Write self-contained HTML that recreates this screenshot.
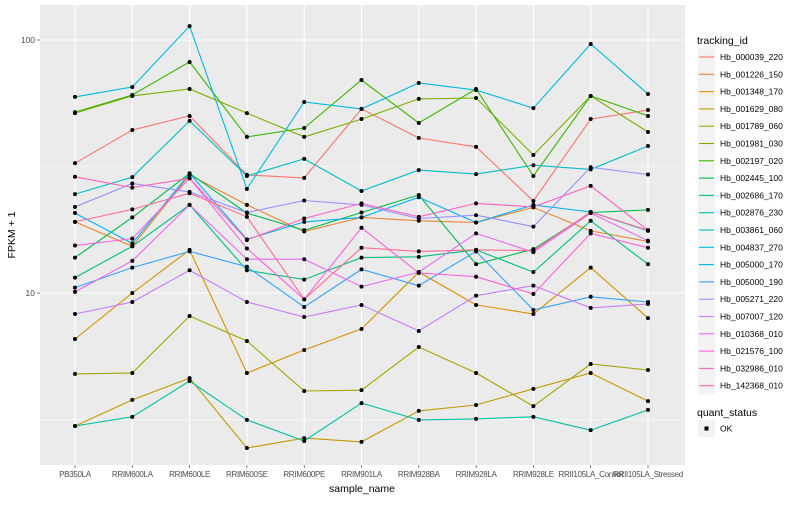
<!DOCTYPE html>
<html><head><meta charset="utf-8"><style>
body{margin:0;background:#fff;}
svg text{font-family:"Liberation Sans",sans-serif;}
</style></head><body>
<svg id="chart" width="800" height="500" xmlns="http://www.w3.org/2000/svg">
<rect x="40" y="5" width="645" height="460" fill="#EBEBEB"/>
<g id="grid"></g><g id="series"></g><g id="axes"></g><g id="legend"></g>
</svg>
<script>
const categories=["PB350LA","RRIM600LA","RRIM600LE","RRIM600SE","RRIM600PE","RRIM901LA","RRIM928BA","RRIM928LA","RRIM928LE","RRII105LA_Control","RRII105LA_Stressed"];
const seriesNames=["Hb_000039_220","Hb_001226_150","Hb_001348_170","Hb_001629_080","Hb_001789_060","Hb_001981_030","Hb_002197_020","Hb_002445_100","Hb_002686_170","Hb_002876_230","Hb_003861_060","Hb_004837_270","Hb_005000_170","Hb_005000_190","Hb_005271_220","Hb_007007_120","Hb_010368_010","Hb_021576_100","Hb_032986_010","Hb_142368_010"];
const seriesColors=["#F8766D","#EA8331","#D89000","#C09B00","#A3A500","#7CAE00","#39B600","#00BB4E","#00BF7D","#00C1A3","#00BFC4","#00BAE0","#00B0F6","#35A2FF","#9590FF","#C77CFF","#E76BF3","#FA62DB","#FF62BC","#FF6C90"];
const s01=[32.6,44.1,50.1,29.3,28.5,53.4,41.0,37.8,23.1,48.7,52.9];
const s02=[19.1,15.3,29.3,22.3,17.5,19.9,19.3,19.0,21.8,17.6,16.0];
const s03=[6.58,10,14.8,4.83,5.95,7.21,12.1,8.97,8.26,12.6,7.96];
const s04=[2.98,3.78,4.61,2.44,2.67,2.58,3.42,3.61,4.18,4.83,3.74];
const s05=[4.79,4.83,8.11,6.46,4.10,4.13,6.12,4.83,3.57,5.24,4.96];
const s06=[51.4,60.1,64.0,51.4,41.4,48.7,58.5,59.0,35.1,60.1,43.3];
const s07=[51.9,60.6,81.9,41.4,44.9,69.5,47.0,64.0,29.0,60.1,50.1];
const s08=[13.8,19.9,29.7,20.7,17.7,20.8,24.4,13.0,14.9,20.8,21.3];
const s09=[11.5,15.3,22.3,12.3,11.3,13.8,13.9,14.8,12.1,19.3,13.0];
const s10=[2.98,3.24,4.49,3.15,2.60,3.67,3.15,3.18,3.24,2.87,3.45];
const s11=[24.6,28.7,47.9,29.0,33.9,25.3,30.6,29.5,32.0,30.8,38.1];
const s12=[59.6,65.2,113.5,25.8,56.9,53.4,67.6,63.4,53.8,96.4,61.2];
const s13=[20.7,15.7,29.7,16.3,19.1,19.9,23.9,19.0,22.3,20.9,17.6];
const s14=[10.5,12.6,14.6,12.7,8.80,12.4,10.7,14.6,8.57,9.66,9.21];
const s15=[21.9,27.1,25.1,20.8,23.2,22.3,19.7,20.3,18.3,31.4,29.4];
const s16=[8.26,9.21,12.3,9.21,8.04,8.97,7.08,9.76,10.7,8.73,9.05];
const s17=[10.1,13.4,22.3,13.6,13.6,10.6,12.1,17.2,14.5,20.7,16.1];
const s18=[15.4,16.4,28.4,15.0,9.44,18.1,12.0,11.6,9.91,17.2,15.1];
const s19=[28.8,26.1,28.4,16.2,19.7,22.6,20.0,22.6,21.9,26.5,17.7];
const s20=[19.1,21.4,24.8,20.0,9.44,15.1,14.6,14.8,14.7,20.9,17.7];
const seriesValues=[s01,s02,s03,s04,s05,s06,s07,s08,s09,s10,s11,s12,s13,s14,s15,s16,s17,s18,s19,s20];
const yTicks=[10,100];
const yTickLabels=["10","100"];
const yMinor=[3.1623,31.623];

const NS="http://www.w3.org/2000/svg";
function xScale(i){return 75+i*57.3;}
function yScale(v){return 293-253*(Math.log10(v)-1);}
function mk(tag,attrs,parent,text){const e=document.createElementNS(NS,tag);for(const k in attrs)e.setAttribute(k,attrs[k]);if(text!==undefined)e.textContent=text;parent.appendChild(e);return e;}
const grid=document.getElementById('grid'),ser=document.getElementById('series'),axes=document.getElementById('axes'),leg=document.getElementById('legend');
yMinor.forEach(v=>{const l=mk('line',{x1:40,x2:685,y1:yScale(v),y2:yScale(v),stroke:'#fff','stroke-width':0.6},grid);

});
yTicks.forEach((v,i)=>{const l=mk('line',{x1:40,x2:685,y1:yScale(v),y2:yScale(v),stroke:'#fff','stroke-width':1.1},grid);


const t=mk('text',{x:35,y:yScale(v)+3,'font-size':8.5,'text-anchor':'end',fill:'#4D4D4D'},axes,yTickLabels[i]);


mk('line',{x1:37,x2:40,y1:yScale(v),y2:yScale(v),stroke:'#333','stroke-width':0.6},axes);});
categories.forEach((c,i)=>{const l=mk('line',{x1:xScale(i),x2:xScale(i),y1:5,y2:465,stroke:'#fff','stroke-width':1.1},grid);


mk('line',{x1:xScale(i),x2:xScale(i),y1:465,y2:468,stroke:'#333','stroke-width':0.6},axes);
const t=mk('text',{x:xScale(i),y:477,'font-size':8,'text-anchor':'middle',fill:'#4D4D4D','letter-spacing':'-0.3'},axes,c);

});
seriesValues.forEach((vals,s)=>{const pts=vals.map((v,i)=>xScale(i).toFixed(1)+','+yScale(v).toFixed(1)).join(' ');
const pl=mk('polyline',{points:pts,fill:'none',stroke:seriesColors[s],'stroke-width':1.1},ser);

});
seriesValues.forEach((vals,s)=>{vals.forEach((v,i)=>{const c=mk('circle',{cx:xScale(i),cy:yScale(v),r:2,fill:'#000'},ser);

});});
let t=mk('text',{x:362,y:492,'font-size':10.5,'text-anchor':'middle',fill:'#000'},axes,'sample_name');


t=mk('text',{x:15,y:235,'font-size':10.5,'text-anchor':'middle',fill:'#000',transform:'rotate(-90 15 235)'},axes,'FPKM + 1');


t=mk('text',{x:697,y:44,'font-size':10.5,fill:'#000'},leg,'tracking_id');


seriesNames.forEach((n,i)=>{const y=57+i*17.3;
const g=mk('g',{},leg);


mk('rect',{x:698,y:y-8.5,width:17,height:17,fill:'#F2F2F2'},g);
mk('line',{x1:699,x2:714,y1:y,y2:y,stroke:seriesColors[i],'stroke-width':1.1},g);
mk('text',{x:720,y:y+3,'font-size':8.5,fill:'#000'},g,n);});
t=mk('text',{x:697,y:416,'font-size':10.5,fill:'#000'},leg,'quant_status');


const g2=mk('g',{},leg);


mk('rect',{x:698,y:420,width:17,height:17,fill:'#F2F2F2'},g2);
mk('rect',{x:704.5,y:426.5,width:4,height:4,fill:'#000'},g2);
mk('text',{x:720,y:431.5,'font-size':8.5,fill:'#000'},g2,'OK');
</script>
</body></html>
